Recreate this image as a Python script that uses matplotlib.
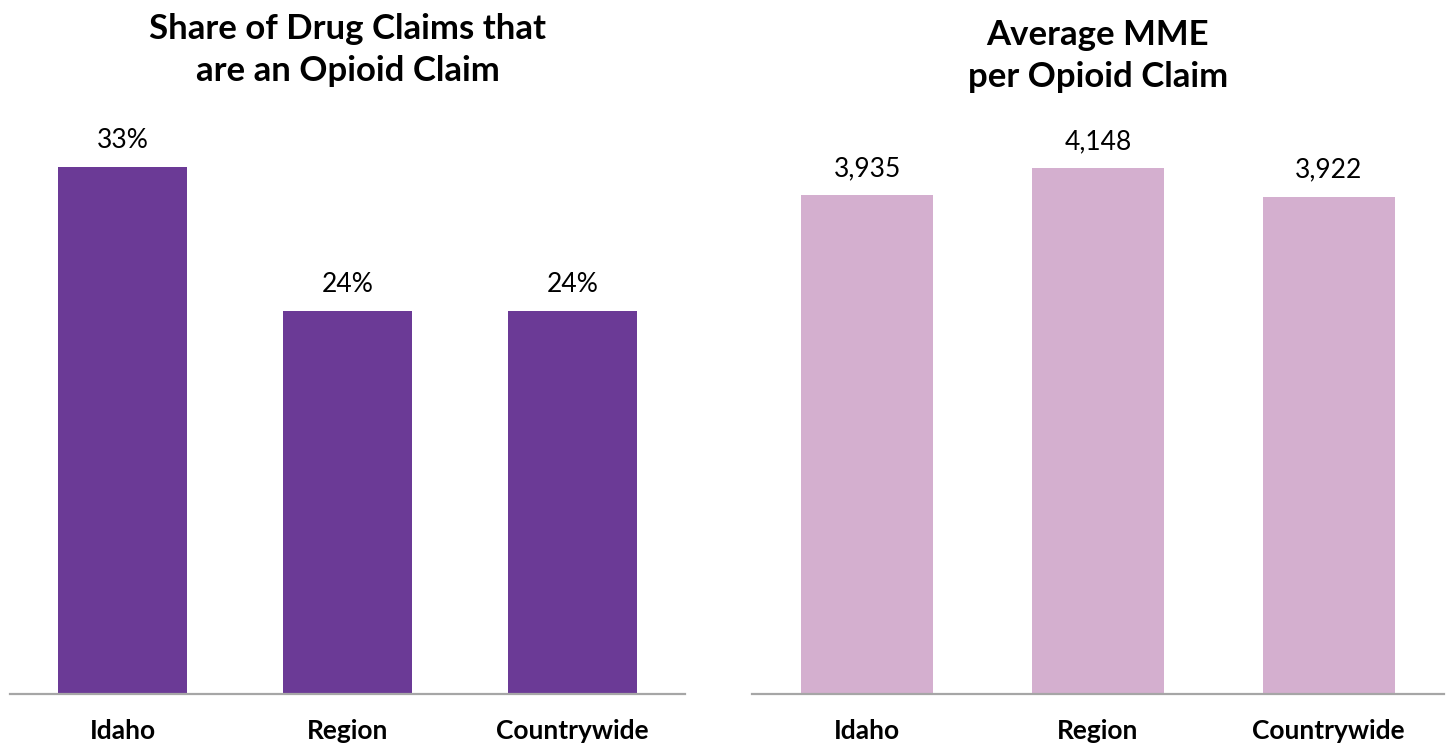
import matplotlib
matplotlib.use("Agg")
import matplotlib.pyplot as plt

# Data
categories = ["Idaho", "Region", "Countrywide"]
opioid_share = [33, 24, 24]          # percent of drug claims
avg_mme = [3935, 4148, 3922]         # average MME per opioid claim

share_title = "Share of Drug Claims that\nare an Opioid Claim"
mme_title = "Average MME\nper Opioid Claim"

PURPLE = "#6B3A96"
PINK = "#D4AFCF"
AXIS_GRAY = "#A6A6A6"
FONT = "Lato"

W, H = 1448, 749
fig = plt.figure(figsize=(W / 100, H / 100), dpi=100)

base_y = 694
top_y = 100
ax_h = (base_y - top_y) / H
ax_left = fig.add_axes([10 / W, 1 - base_y / H, 675 / W, ax_h])
ax_right = fig.add_axes([752 / W, 1 - base_y / H, 692 / W, ax_h])


def draw_panel(ax, values, color, ymax, fmt, title, title_y):
    x = range(len(categories))
    bars = ax.bar(x, values, width=0.573, color=color, zorder=2)
    ax.set_xlim(-0.5, len(categories) - 0.5)
    ax.set_ylim(0, ymax)
    for s in ["top", "right", "left"]:
        ax.spines[s].set_visible(False)
    ax.spines["bottom"].set_color(AXIS_GRAY)
    ax.spines["bottom"].set_linewidth(1.6)
    ax.set_yticks([])
    ax.set_xticks(list(x))
    ax.set_xticklabels(categories, fontfamily=FONT, fontweight="bold",
                       fontsize=19)
    ax.tick_params(axis="x", length=0, pad=18)
    for b, v in zip(bars, values):
        ax.annotate(fmt(v), (b.get_x() + b.get_width() / 2, v),
                    xytext=(0, 10), textcoords="offset points",
                    ha="center", va="bottom", fontfamily=FONT,
                    fontsize=19, color="#000000")
    # title centred over the bars
    xc = ax.transData.transform((1, 0))[0] / W
    fig.text(xc, title_y, title, ha="center", va="center", fontfamily=FONT,
             fontweight="bold", fontsize=25, linespacing=1.4)


draw_panel(ax_left, opioid_share, PURPLE, (base_y - top_y) / (527 / 33),
           lambda v: f"{v}%", share_title, 1 - 50 / H)
draw_panel(ax_right, avg_mme, PINK, (base_y - top_y) / (526 / 4148),
           lambda v: f"{v:,}", mme_title, 1 - 56 / H)

fig.savefig("out.png", dpi=100, facecolor="white")
